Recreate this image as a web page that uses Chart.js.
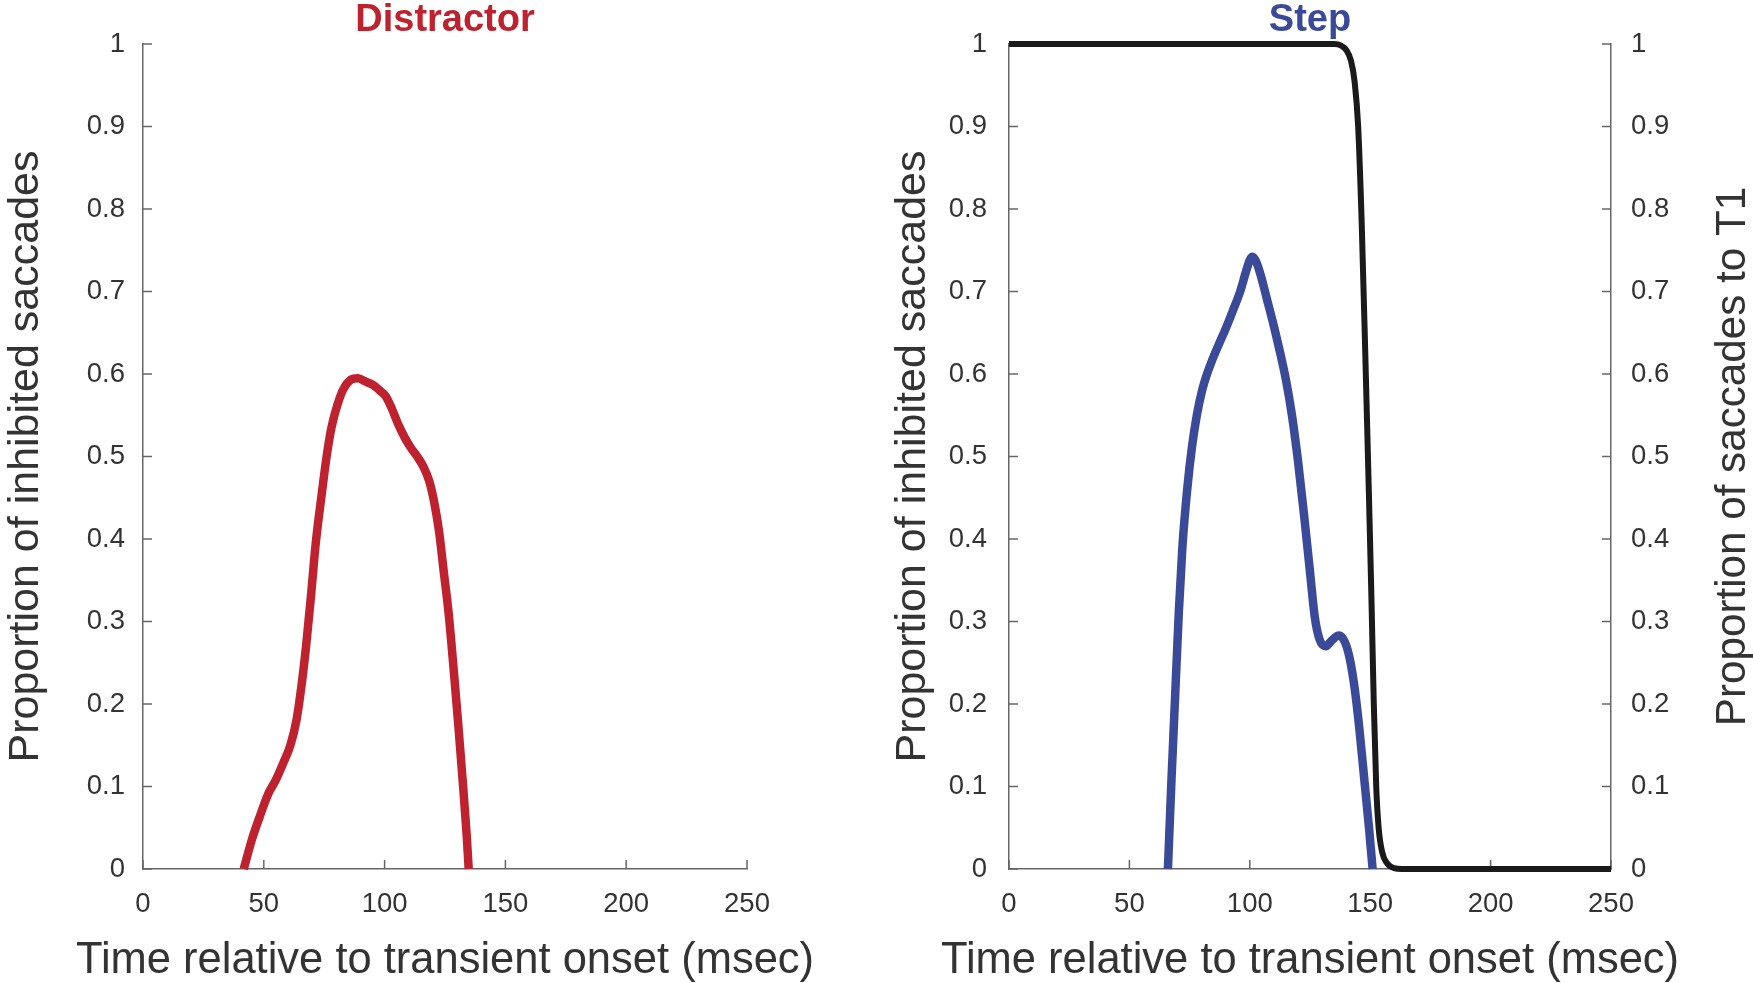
<!DOCTYPE html>
<html><head><meta charset="utf-8">
<script src="https://cdn.jsdelivr.net/npm/chart.js@4"></script>
<style>
html,body{margin:0;padding:0;background:#fff;width:1753px;height:983px;overflow:hidden}
#c1{position:absolute;left:0;top:0}
#c2{position:absolute;left:870px;top:0}
</style></head><body>
<canvas id="c1" width="870" height="983"></canvas>
<canvas id="c2" width="883" height="983"></canvas>
<script>
// ---- data ----
const xTickLabels = ['0','50','100','150','200','250'];
const yTickLabels = ['0','0.1','0.2','0.3','0.4','0.5','0.6','0.7','0.8','0.9','1'];
const panelTitles = ['Distractor','Step'];
const xAxisTitle = 'Time relative to transient onset (msec)';
const yAxisTitle = 'Proportion of inhibited saccades';
const y2AxisTitle = 'Proportion of saccades to T1';

const distractorTime = [41.7,45,48.5,52,55,58,61,63.5,65.5,67.5,69.5,71.5,74,76,78,80.5,83,86,89,92,95,98,100.5,103,105.5,108.5,111,113.5,116,118.5,120.5,122.5,124.5,126.5,128.5,130.5,132.5,134,134.8];
const distractorProb = [0,0.035,0.065,0.092,0.108,0.128,0.15,0.18,0.22,0.27,0.33,0.395,0.455,0.5,0.535,0.563,0.582,0.593,0.595,0.591,0.587,0.58,0.573,0.558,0.54,0.522,0.51,0.5,0.488,0.47,0.445,0.41,0.36,0.31,0.245,0.175,0.1,0.04,0];

const stepTime = [66,67.5,69,70.5,72,74,76,78,80,82,84,87,90,93,96,98.5,100,101,102.5,104.5,107,110,112.5,115,117.5,120,122.5,125,127,129,131.5,134,137,139.5,141.5,143.5,145.5,147.5,149.5,151];
const stepProb = [0,0.11,0.21,0.31,0.39,0.46,0.512,0.55,0.578,0.598,0.614,0.635,0.655,0.677,0.70,0.725,0.738,0.742,0.737,0.72,0.692,0.658,0.627,0.593,0.55,0.495,0.43,0.36,0.305,0.278,0.27,0.277,0.283,0.275,0.255,0.22,0.17,0.11,0.05,0];

const t1Time = [0,135,138,140,142,143.5,145,146.5,148,149.5,150.5,151.5,152.5,153.5,155,157,160,163,250];
const t1Prob = [1,1,0.998,0.993,0.98,0.955,0.9,0.78,0.62,0.45,0.33,0.2,0.1,0.05,0.02,0.007,0.001,0,0];

// ---- styling ----
const FONT = "'Liberation Sans', Arial, Helvetica, sans-serif";
const AXIS = '#666666';
const TEXT = '#333333';
const RED = '#BE222E';
const BLUE = '#3A4A98';
const BLACK = '#1a1a1a';

function pts(xs, ys){ return xs.map((x,i)=>({x:x, y:ys[i]})); }

const inwardTicks = {
  id: 'inwardTicks',
  beforeDatasetsDraw(chart) {
    const ctx = chart.ctx, a = chart.chartArea;
    ctx.save();
    ctx.strokeStyle = AXIS; ctx.lineWidth = 1.5;
    Object.values(chart.scales).forEach(s => {
      s.ticks.forEach((t, i) => {
        const p = s.getPixelForTick(i);
        ctx.beginPath();
        if (s.position === 'bottom') { ctx.moveTo(p, a.bottom); ctx.lineTo(p, a.bottom - 9); }
        else if (s.position === 'left') { ctx.moveTo(a.left, p); ctx.lineTo(a.left + 9, p); }
        else if (s.position === 'right') { ctx.moveTo(a.right, p); ctx.lineTo(a.right - 9, p); }
        ctx.stroke();
      });
    });
    ctx.restore();
  }
};

// axis titles drawn without width limit (x title is wider than the plot area)
const axisTitles = {
  id: 'axisTitles',
  afterDraw(chart, args, opts) {
    const ctx = chart.ctx;
    ctx.save();
    ctx.fillStyle = TEXT;
    ctx.textAlign = 'center';
    ctx.textBaseline = 'middle';
    const sx = chart.scales.x;
    if (sx && opts.xText) {
      ctx.font = opts.xSize + 'px ' + FONT;
      ctx.fillText(opts.xText, (sx.left + sx.right) / 2, sx.bottom - opts.xOffset);
    }
    const s2 = chart.scales.y2;
    if (s2 && opts.rightText) {
      ctx.translate(s2.right - opts.rightOffset, (s2.top + s2.bottom) / 2);
      ctx.rotate(-Math.PI / 2);
      ctx.font = opts.rightSize + 'px ' + FONT;
      ctx.fillText(opts.rightText, 0, 0);
    }
    ctx.restore();
  }
};

function xScale() {
  return {
    type: 'linear', position: 'bottom', min: 0, max: 250,
    afterFit(s) { s.height = 114; },
    ticks: { stepSize: 50, padding: 19, color: TEXT, font: { family: FONT, size: 27.5 },
             maxRotation: 0, autoSkip: false, callback: (v, i) => xTickLabels[i] },
    grid: { display: false, drawTicks: false },
    border: { display: true, color: AXIS, width: 1.5 },
    title: { display: false }
  };
}
function yScale(position, width, pad, titleText) {
  return {
    type: 'linear', position: position, min: 0, max: 1,
    afterFit(s) { s.width = width; },
    ticks: { stepSize: 0.1, padding: pad, color: TEXT, font: { family: FONT, size: 27.5 },
             autoSkip: false, callback: (v, i) => yTickLabels[i] },
    grid: { display: false, drawTicks: false },
    border: { display: true, color: AXIS, width: 1.5 },
    title: { display: !!titleText, text: titleText || '', color: TEXT,
             font: { family: FONT, size: 43, lineHeight: 1.2 }, padding: 0 }
  };
}
function titleOpts(text, color) {
  return { display: true, text: text, color: color, fullSize: false,
           font: { family: FONT, size: 38, weight: 'bold', lineHeight: 0.9 },
           padding: { top: 3.1, bottom: 6.7 } };
}
function lineDs(data, color, width, axis) {
  return { data: data, borderColor: color, backgroundColor: color, borderWidth: width,
           pointRadius: 0, cubicInterpolationMode: 'monotone', fill: false, clip: false,
           borderJoinStyle: 'round', yAxisID: axis || 'y' };
}

new Chart(document.getElementById('c1'), {
  type: 'line',
  data: { datasets: [ lineDs(pts(distractorTime, distractorProb), RED, 8.5) ] },
  options: {
    responsive: false, animation: false, events: [],
    layout: { padding: { left: 0, right: 123, top: 0, bottom: 0 } },
    scales: { x: xScale(), y: yScale('left', 143, 18, yAxisTitle) },
    plugins: { legend: { display: false }, tooltip: { enabled: false },
               title: titleOpts(panelTitles[0], RED),
               axisTitles: { xText: xAxisTitle, xSize: 43.5, xOffset: 22 } }
  },
  plugins: [inwardTicks, axisTitles]
});

new Chart(document.getElementById('c2'), {
  type: 'line',
  data: { datasets: [
    lineDs(pts(stepTime, stepProb), BLUE, 8.5, 'y'),
    lineDs(pts(t1Time, t1Prob), BLACK, 6, 'y2')
  ] },
  options: {
    responsive: false, animation: false, events: [],
    layout: { padding: { left: 17, right: 0, top: 0, bottom: 0 } },
    scales: {
      x: xScale(),
      y: yScale('left', 122, 22, yAxisTitle),
      y2: yScale('right', 142, 20, '')
    },
    plugins: { legend: { display: false }, tooltip: { enabled: false },
               title: titleOpts(panelTitles[1], BLUE),
               axisTitles: { xText: xAxisTitle, xSize: 43.5, xOffset: 22,
                             rightText: y2AxisTitle, rightSize: 42.2, rightOffset: 19.4 } }
  },
  plugins: [inwardTicks, axisTitles]
});
</script>
</body></html>
